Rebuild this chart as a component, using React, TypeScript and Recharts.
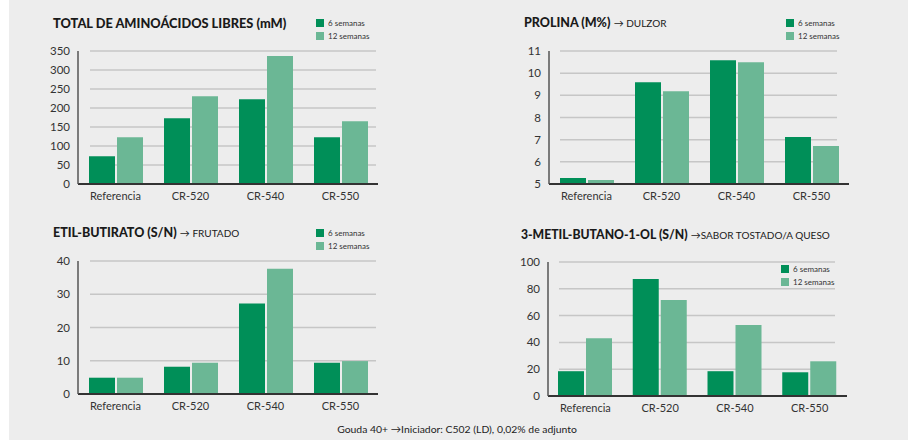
import { BarChart, Bar, XAxis, YAxis, CartesianGrid } from "recharts";

const categories = ["Referencia", "CR-520", "CR-540", "CR-550"];

const aminoWeek6 = [73, 173, 223, 123];
const aminoWeek12 = [123, 231, 337, 165];
const aminoTicks = [0, 50, 100, 150, 200, 250, 300, 350];

const prolinaWeek6 = [5.27, 9.59, 10.58, 7.12];
const prolinaWeek12 = [5.18, 9.18, 10.49, 6.71];
const prolinaTicks = [5, 6, 7, 8, 9, 10, 11];

const butiratoWeek6 = [4.9, 8.2, 27.2, 9.4];
const butiratoWeek12 = [4.9, 9.4, 37.7, 9.9];
const butiratoTicks = [0, 10, 20, 30, 40];

const metilWeek6 = [18.5, 87.3, 18.5, 17.7];
const metilWeek12 = [43.1, 71.6, 52.9, 25.9];
const metilTicks = [0, 20, 40, 60, 80, 100];

const seriesNames = ["6 semanas", "12 semanas"];

const DARK = "#008f58";
const LIGHT = "#6bb795";
const FONT = "Lato, 'Open Sans', sans-serif";

const buildRows = (a: number[], b: number[]) =>
  categories.map((name, i) => ({ name, w6: a[i], w12: b[i] }));

// small two-row legend, placed by hand like the original layout
const LegendBox = ({ x, y }: { x: number; y: number }) => (
  <div style={{ position: "absolute", left: x, top: y, fontFamily: FONT, fontSize: 8, color: "#333" }}>
    {seriesNames.map((s, i) => (
      <div key={s} style={{ display: "flex", alignItems: "center", height: 13 }}>
        <span style={{ width: 8, height: 8, background: i === 0 ? DARK : LIGHT, marginRight: 4, display: "inline-block" }} />
        {s}
      </div>
    ))}
  </div>
);

interface PanelProps {
  left: number;
  top: number;
  data: { name: string; w6: number; w12: number }[];
  ticks: number[];
  plotLeft: number;
  plotTop: number;
  plotBottom: number;
  plotRight: number;
  gridInL: number;
  gridInR: number;
  legendX: number;
  legendY: number;
}

function Panel(p: PanelProps) {
  const W = 457;
  const H = 220;
  const yW = 40;
  const xH = 30;
  return (
    <div style={{ position: "absolute", left: p.left, top: p.top, width: W, height: H }}>
      <BarChart
        width={W}
        height={H}
        data={p.data}
        barSize={26}
        barGap={2}
        margin={{ top: p.plotTop, left: p.plotLeft - yW, right: W - p.plotRight, bottom: H - p.plotBottom - xH }}
      >
        <CartesianGrid
          vertical={false}
          horizontal={(g: any) => (
            <line
              key={`g-${g.index}-${g.y1}`}
              x1={g.x1 + p.gridInL}
              x2={g.x2 - p.gridInR}
              y1={g.y1}
              y2={g.y2}
              stroke="#c6c6c6"
              strokeWidth={1.5}
            />
          )}
        />
        <XAxis
          dataKey="name"
          height={xH}
          tickLine={false}
          axisLine={{ stroke: "#333", strokeWidth: 2 }}
          tick={{ fontSize: 11, fill: "#333", fontFamily: FONT }}
        />
        <YAxis
          width={yW}
          domain={[p.ticks[0], p.ticks[p.ticks.length - 1]]}
          ticks={p.ticks}
          interval={0}
          tickLine={false}
          axisLine={{ stroke: "#555", strokeWidth: 1.5 }}
          tick={{ fontSize: 11.5, fill: "#333", fontFamily: FONT }}
        />
        <Bar dataKey="w6" name={seriesNames[0]} fill={DARK} isAnimationActive={false} />
        <Bar dataKey="w12" name={seriesNames[1]} fill={LIGHT} isAnimationActive={false} />
      </BarChart>
      <LegendBox x={p.legendX} y={p.legendY} />
    </div>
  );
}

const titleStyle: React.CSSProperties = {
  position: "absolute",
  fontFamily: FONT,
  fontSize: 12.5,
  color: "#1a1a1a",
  whiteSpace: "nowrap",
  lineHeight: "16px",
};

const subStyle: React.CSSProperties = { fontSize: 10, fontWeight: 400 };

export default function App() {
  return (
    <div style={{ position: "absolute", left: 0, top: 0, width: 914, height: 440, background: "#fff" }}>
      <div style={{ position: "absolute", left: 9, top: 0, width: 899, height: 440, background: "#ededed" }} />
      <Panel left={0} top={0} data={buildRows(aminoWeek6, aminoWeek12)} ticks={aminoTicks}
        plotLeft={78} plotTop={51} plotBottom={184} plotRight={378} gridInL={12} gridInR={2} legendX={316} legendY={16} />
      <Panel left={457} top={0} data={buildRows(prolinaWeek6, prolinaWeek12)} ticks={prolinaTicks}
        plotLeft={92} plotTop={51} plotBottom={184} plotRight={392} gridInL={11} gridInR={12} legendX={329} legendY={16} />
      <Panel left={0} top={220} data={buildRows(butiratoWeek6, butiratoWeek12)} ticks={butiratoTicks}
        plotLeft={78} plotTop={41} plotBottom={174} plotRight={378} gridInL={12} gridInR={2} legendX={316} legendY={6} />
      <Panel left={457} top={220} data={buildRows(metilWeek6, metilWeek12)} ticks={metilTicks}
        plotLeft={91} plotTop={42} plotBottom={176} plotRight={390} gridInL={11} gridInR={12} legendX={324} legendY={42} />

      <div style={{ ...titleStyle, left: 53, top: 15, fontWeight: 900, fontSize: 12.8 }}>TOTAL DE AMINOÁCIDOS LIBRES (mM)</div>
      <div style={{ ...titleStyle, left: 524, top: 15 }}>
        <b style={{ fontWeight: 900 }}>PROLINA (M%)</b> <span style={subStyle}>→ DULZOR</span>
      </div>
      <div style={{ ...titleStyle, left: 53, top: 225 }}>
        <b style={{ fontWeight: 900 }}>ETIL-BUTIRATO (S/N)</b> <span style={subStyle}>→ FRUTADO</span>
      </div>
      <div style={{ ...titleStyle, left: 521, top: 227 }}>
        <b style={{ fontWeight: 900, fontSize: 12.2 }}>3-METIL-BUTANO-1-OL (S/N)</b> <span style={subStyle}>→SABOR TOSTADO/A QUESO</span>
      </div>
      <div style={{ position: "absolute", left: 0, width: 914, top: 423, textAlign: "center", fontFamily: FONT, fontSize: 10.4, color: "#222" }}>
        Gouda 40+ →Iniciador: C502 (LD), 0,02% de adjunto
      </div>
    </div>
  );
}
